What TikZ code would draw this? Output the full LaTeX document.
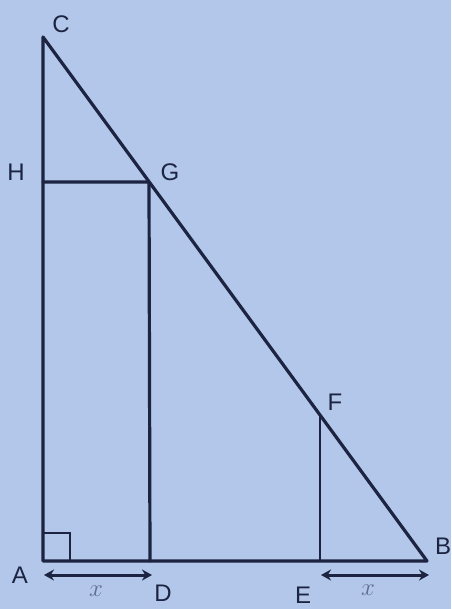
\documentclass[tikz,border=0pt]{standalone}
\usepackage{fontspec}
\setmainfont{Liberation Sans}
\usetikzlibrary{arrows.meta}
\definecolor{bg}{RGB}{178,199,234}
\definecolor{ink}{RGB}{28,36,66}
\tikzset{
  seg/.style={draw=ink, line width=3.2pt, line cap=round, line join=round},
  thin/.style={draw=ink, line width=2.6pt},
  dim/.style={draw=ink, line width=3pt, {Stealth[length=10pt,width=11pt]}-{Stealth[length=10pt,width=11pt]}},
  lbl/.style={text=ink, font=\fontsize{24}{24}\selectfont, inner sep=0pt},
  xl/.style={text=ink!55!bg, font=\fontsize{24}{24}\selectfont, inner sep=0pt}
}
\begin{document}
\begin{tikzpicture}[x=1pt,y=-1pt]
\fill[bg] (0,0) rectangle (451,609);
\useasboundingbox (0,0) rectangle (451,609);
\coordinate (C) at (43,37);
\coordinate (A) at (43,561);
\coordinate (B) at (427,561);
\coordinate (H) at (43,182);
\coordinate (G) at (149,182);
\coordinate (D) at (150,561);
\coordinate (F) at (320,415);
\coordinate (E) at (320,561);
\coordinate (A1) at (44,575);
\coordinate (D1) at (152,575);
\coordinate (E1) at (321,575);
\coordinate (B1) at (429,575);
\draw[seg] (C) -- (A) -- (B) -- cycle;
\draw[seg] (H) -- (G) -- (D);
\draw[thin] (F) -- (E);
\draw[thin] (43,533) -- (70,533) -- (70,561);
\draw[dim] (A1) -- (D1);
\draw[dim] (E1) -- (B1);
\node[lbl] (lC) at (61,24) {C};
\node[lbl] (lH) at (16,172) {H};
\node[lbl] (lG) at (170,172) {G};
\node[lbl] (lF) at (335,402) {F};
\node[lbl] (lB) at (443,546) {B};
\node[lbl] (lA) at (20,575) {A};
\node[lbl] (lD) at (163,593) {D};
\node[lbl] (lE) at (303,595) {E};
\node[xl] (x1) at (96,591) {$x$};
\node[xl] (x2) at (368,590) {$x$};
\end{tikzpicture}
\end{document}
